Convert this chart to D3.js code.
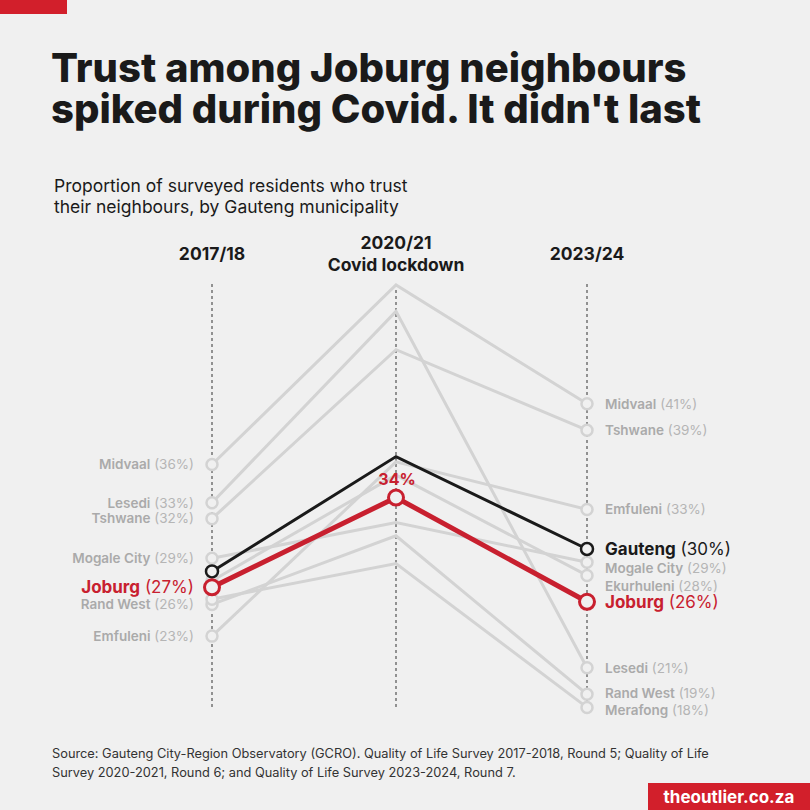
<!DOCTYPE html>
<html><head><meta charset="utf-8">
<script src="https://cdn.jsdelivr.net/npm/d3@7"></script>
<style>body{margin:0;background:#f0f0f0;font-family:Inter,"Noto Sans",sans-serif}</style>
</head><body><div id="chart"></div>
<script>
// Données (pourcentages)
const periodes = ["2017/18", "2020/21", "2023/24"];
const municipalites = ["Midvaal", "Lesedi", "Tshwane", "Emfuleni", "Ekurhuleni", "Mogale City", "Rand West", "Merafong"];
const val2017 = [36.4, 33.5, 32.3, 23.4, 27.6, 29.3, 25.8, 26.2];
const val2020 = [50.0, 48.0, 45.1, 36.6, 35.6, 32.0, 31.0, 28.9];
const val2023 = [41, 21, 39, 33, 28, 29, 19, 18];
const labelsGauche = ["Midvaal", "Lesedi", "Tshwane", "Mogale City", "Rand West", "Emfuleni"];
const labelsGaucheVal = [36, 33, 32, 29, 26, 23];
const labelsDroite = ["Midvaal", "Tshwane", "Emfuleni", "Mogale City", "Ekurhuleni", "Lesedi", "Rand West", "Merafong"];
const labelsDroiteVal = [41, 39, 33, 29, 28, 21, 19, 18];
const gauteng = [28.3, 37.0, 30];
const joburg = [27.1, 33.9, 26];

const W = 810, H = 810;
const svg = d3.select("#chart").append("svg").attr("width", W).attr("height", H);
svg.append("rect").attr("width", W).attr("height", H).attr("fill", "#f0f0f0");
svg.append("rect").attr("width", 67).attr("height", 14).attr("fill", "#d21f2b");

const x = d3.scalePoint().domain(periodes).range([212, 587]);
const xp = p => p === "2020/21" ? 396 : x(p);
const y = d3.scaleLinear().domain([18, 50]).range([707.4, 285]);

// Titre
svg.append("text").attr("x", 51).attr("y", 82).attr("font-size", 40).attr("font-weight", 800).attr("fill", "#1a1a1a")
  .text("Trust among Joburg neighbours");
svg.append("text").attr("x", 51).attr("y", 123).attr("font-size", 40).attr("font-weight", 800).attr("fill", "#1a1a1a")
  .text("spiked during Covid. It didn't last");
svg.append("text").attr("x", 54).attr("y", 192).attr("font-size", 17.5).attr("fill", "#1a1a1a").text("Proportion of surveyed residents who trust");
svg.append("text").attr("x", 54).attr("y", 213).attr("font-size", 17.5).attr("fill", "#1a1a1a").text("their neighbours, by Gauteng municipality");

// En-têtes des colonnes
const entete = [["2017/18"], ["2020/21", "Covid lockdown"], ["2023/24"]];
periodes.forEach((p, i) => {
  entete[i].forEach((t, k) => {
    svg.append("text").attr("x", xp(p)).attr("y", entete[i].length === 1 ? 260 : 249 + k * 22)
      .attr("text-anchor", "middle").attr("font-size", 17.5).attr("font-weight", 700).attr("fill", "#1a1a1a").text(t);
  });
  svg.append("line").attr("x1", xp(p)).attr("x2", xp(p)).attr("y1", 284).attr("y2", 708)
    .attr("stroke", "#333").attr("stroke-dasharray", "3,3").attr("stroke-width", 1);
});

const ligne = d3.line().x((d, i) => xp(periodes[i])).y(d => y(d));

// Lignes grises
municipalites.forEach((m, i) => {
  const vals = [val2017[i], val2020[i], val2023[i]];
  svg.append("path").attr("d", ligne(vals)).attr("fill", "none").attr("stroke", "#d3d3d3").attr("stroke-width", 3);
});
municipalites.forEach((m, i) => {
  [val2017[i], val2023[i]].forEach((v, k) => {
    svg.append("circle").attr("cx", xp(periodes[k * 2])).attr("cy", y(v)).attr("r", 5.5)
      .attr("fill", "#f0f0f0").attr("stroke", "#d3d3d3").attr("stroke-width", 2.5);
  });
});

// Gauteng et Joburg
svg.append("path").attr("d", ligne(gauteng)).attr("fill", "none").attr("stroke", "#1a1a1a").attr("stroke-width", 3);
svg.append("path").attr("d", ligne(joburg)).attr("fill", "none").attr("stroke", "#c8202f").attr("stroke-width", 5);
[0, 2].forEach(k => {
  svg.append("circle").attr("cx", xp(periodes[k])).attr("cy", y(gauteng[k])).attr("r", 6)
    .attr("fill", "#f0f0f0").attr("stroke", "#1a1a1a").attr("stroke-width", 2.5);
});
[0, 1, 2].forEach(k => {
  svg.append("circle").attr("cx", xp(periodes[k])).attr("cy", y(joburg[k])).attr("r", 7.5)
    .attr("fill", "#f0f0f0").attr("stroke", "#c8202f").attr("stroke-width", 3);
});
svg.append("text").attr("x", 397).attr("y", y(joburg[1]) - 13).attr("text-anchor", "middle")
  .attr("font-size", 16).attr("font-weight", 700).attr("fill", "#c8202f").text(Math.round(joburg[1]) + "%");

// Étiquettes
function etiquette(xx, yy, nom, val, anchor, couleur, taille, gras) {
  const t = svg.append("text").attr("x", xx).attr("y", yy).attr("dy", "0.35em").attr("text-anchor", anchor)
    .attr("font-size", taille);
  t.append("tspan").attr("font-weight", gras ? 700 : 600).attr("fill", couleur).text(nom);
  t.append("tspan").attr("font-weight", 400).attr("fill", couleur === "#aaaaaa" ? "#b5b5b5" : couleur).text(" (" + val + "%)");
}
labelsGauche.forEach((n, i) => {
  const v = val2017[municipalites.indexOf(n)];
  etiquette(194, y(v), n, labelsGaucheVal[i], "end", "#aaaaaa", 13.5, false);
});
labelsDroite.forEach((n, i) => {
  const v = val2023[municipalites.indexOf(n)];
  let yy = y(v);
  if (n === "Mogale City") yy = 568;
  if (n === "Ekurhuleni") yy = 586;
  if (n === "Rand West") yy -= 1;
  if (n === "Merafong") yy += 3;
  etiquette(605, yy, n, labelsDroiteVal[i], "start", "#aaaaaa", 13.5, false);
});
etiquette(194, y(joburg[0]), "Joburg", 27, "end", "#c8202f", 17, true);
etiquette(605, y(joburg[2]), "Joburg", 26, "start", "#c8202f", 17, true);
etiquette(605, y(gauteng[2]), "Gauteng", 30, "start", "#1a1a1a", 17, true);

// Source
["Source: Gauteng City-Region Observatory (GCRO). Quality of Life Survey 2017-2018, Round 5; Quality of Life",
 "Survey 2020-2021, Round 6; and Quality of Life Survey 2023-2024, Round 7."].forEach((t, i) => {
  svg.append("text").attr("x", 52).attr("y", 758 + i * 19).attr("font-size", 12.8).attr("fill", "#333").text(t);
});
svg.append("rect").attr("x", 648).attr("y", 783).attr("width", 162).attr("height", 27).attr("fill", "#d21f2b");
svg.append("text").attr("x", 729).attr("y", 803).attr("text-anchor", "middle").attr("font-size", 17)
  .attr("font-weight", 700).attr("fill", "#fff").text("theoutlier.co.za");
</script></body></html>
